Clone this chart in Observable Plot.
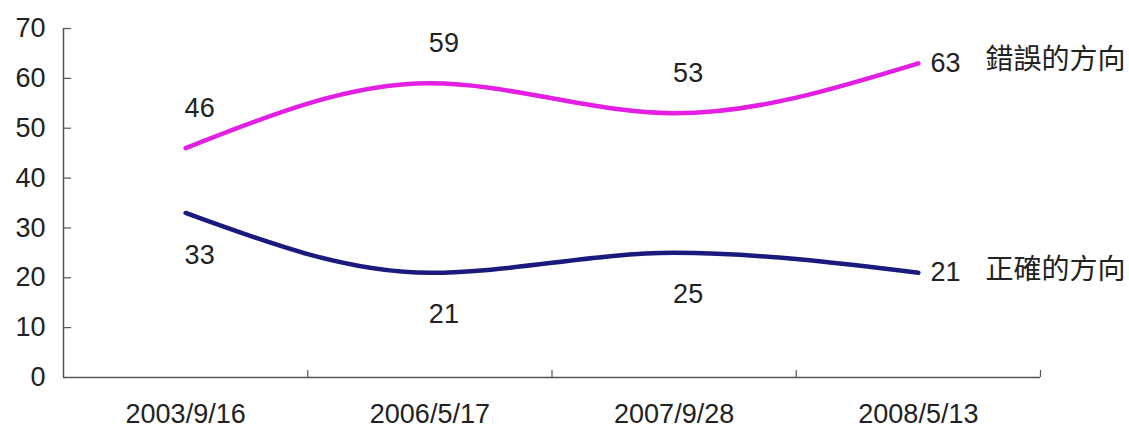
<!DOCTYPE html>
<html><head><meta charset="utf-8">
<script src="https://cdn.jsdelivr.net/npm/d3@7"></script>
<script src="https://cdn.jsdelivr.net/npm/@observablehq/plot@0.6"></script>
<style>body{margin:0;background:#fff}</style>
</head><body><div id="chart"></div>
<script>
const dates = ["2003/9/16", "2006/5/17", "2007/9/28", "2008/5/13"];
const seriesNames = ["錯誤的方向", "正確的方向"];
const wrongValues = [46, 59, 53, 63];
const rightValues = [33, 21, 25, 21];
const yTicks = [0, 10, 20, 30, 40, 50, 60, 70];
const colors = ["#e21fe2", "#1a1a7e"];

const rows = [];
dates.forEach((d, i) => {
  rows.push({series: seriesNames[0], i, date: d, value: wrongValues[i], above: true});
  rows.push({series: seriesNames[1], i, date: d, value: rightValues[i], above: false});
});
const lastIdx = dates.length - 1;
const inner = rows.filter(r => r.i < lastIdx);
const last = rows.filter(r => r.i === lastIdx);
const boundaries = d3.range(dates.length + 1).map(k => k - 0.5);

const W = 1129, H = 428, mL = 63, mR = 89, mT = 28, mB = 51;
const frameW = W - mL - mR, frameH = H - mT - mB;
const font = "'Liberation Sans', Arial, 'Noto Sans CJK TC', sans-serif";
const axisColor = "#555";

const chart = Plot.plot({
  width: W, height: H,
  marginLeft: mL, marginRight: mR, marginTop: mT, marginBottom: mB,
  style: {fontFamily: font, fontSize: "27px", background: "#fff", color: "#222"},
  x: {type: "linear", domain: [-0.5, dates.length - 0.5], label: null},
  y: {domain: [0, 70], label: null},
  color: {domain: seriesNames, range: colors},
  marks: [
    Plot.axisY({ticks: yTicks, tickSize: 0, tickPadding: 18, fontSize: 27, fill: "#222", label: null}),
    Plot.axisX({ticks: d3.range(dates.length), tickFormat: i => dates[i], tickSize: 0, tickPadding: 26, fontSize: 27, fill: "#222", label: null}),
    Plot.ruleY([0], {stroke: axisColor, strokeWidth: 1.5}),
    Plot.ruleX([boundaries[0]], {stroke: axisColor, strokeWidth: 1.5}),
    Plot.ruleX(boundaries.slice(1), {stroke: axisColor, strokeWidth: 1.2, insetTop: frameH - 7}),
    Plot.ruleY(yTicks.slice(1), {stroke: axisColor, strokeWidth: 1.2, insetRight: frameW - 8}),
    Plot.line(rows, {x: "i", y: "value", z: "series", stroke: "series", curve: "monotone-x", strokeWidth: 4.5, strokeLinecap: "round"}),
    Plot.text(inner.filter(r => r.above), {x: "i", y: "value", text: d => String(d.value), dy: -40, dx: 14, fontSize: 27, fill: "#222"}),
    Plot.text(inner.filter(r => !r.above), {x: "i", y: "value", text: d => String(d.value), dy: 42, dx: 14, fontSize: 27, fill: "#222"}),
    Plot.text(last, {x: "i", y: "value", text: d => String(d.value), dx: 12, textAnchor: "start", fontSize: 27, fill: "#222"}),
    Plot.text(last, {x: "i", y: "value", text: "series", dx: 67, dy: -3, textAnchor: "start", fontSize: 28, fill: "#222", fontFamily: "'Noto Sans CJK TC', sans-serif"})
  ]
});
document.getElementById("chart").appendChild(chart);
</script>
</body></html>
